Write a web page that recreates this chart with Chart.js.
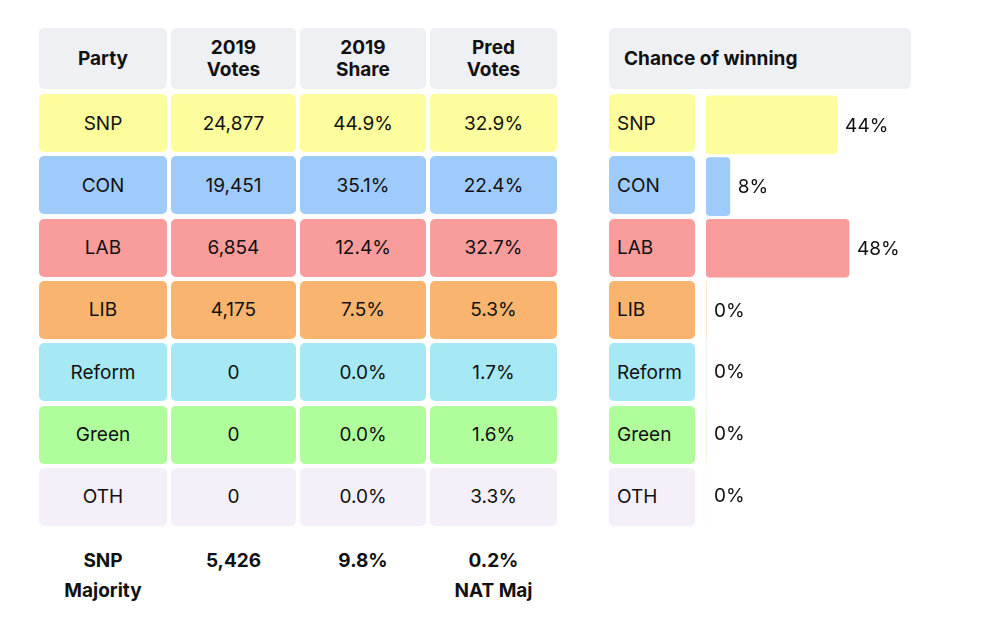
<!DOCTYPE html>
<html><head><meta charset="utf-8">
<script src="https://cdn.jsdelivr.net/npm/chart.js@4/dist/chart.umd.min.js"></script>
<style>
body{margin:0;background:#fff;font-family:Inter,"Noto Sans",sans-serif;color:#111;width:993px;height:619px;position:relative;overflow:hidden}
.c{position:absolute;display:flex;align-items:center;justify-content:center;text-align:center;font-size:19px;border-radius:5px;box-sizing:border-box}
.h{font-weight:700;background:#eff0f3;line-height:22px}
.f{font-weight:700;line-height:30px;align-items:flex-start}
#wrap{position:absolute;left:706px;top:94px;width:260px;height:432px}
</style></head><body>
<div id="wrap"><canvas id="myChart"></canvas></div>
<script>
var parties = ["SNP","CON","LAB","LIB","Reform","Green","OTH"];
var votes2019 = ["24,877","19,451","6,854","4,175","0","0","0"];
var share2019 = ["44.9%","35.1%","12.4%","7.5%","0.0%","0.0%","0.0%"];
var predVotes = ["32.9%","22.4%","32.7%","5.3%","1.7%","1.6%","3.3%"];
var chance = [44,8,48,0,0,0,0];
var colours = ["#fdfd9e","#9ecbfa","#f99c9c","#f9b46f","#a6e8f3","#b0fd9c","#f5effa"];
var footer = ["SNP<br>Majority","5,426","9.8%","0.2%<br>NAT Maj"];

var colX = [39,171,300,430], colW = [128,125,126,127];
function cell(x,y,w,h,html,cls,bg){
  var d=document.createElement('div');
  d.className='c '+(cls||'');
  d.style.left=x+'px';d.style.top=y+'px';d.style.width=w+'px';d.style.height=h+'px';
  if(bg) d.style.background=bg;
  d.innerHTML=html;document.body.appendChild(d);
}
var heads=["Party","2019<br>Votes","2019<br>Share","Pred<br>Votes"];
for(var j=0;j<4;j++) cell(colX[j],28,colW[j],61,heads[j],'h');
cell(609,28,302,61,'<span style="padding-left:15px;width:100%;text-align:left">Chance of winning</span>','h');
for(var i=0;i<parties.length;i++){
  var y=94+i*62.3;
  var vals=[parties[i],votes2019[i],share2019[i],predVotes[i]];
  for(var j=0;j<4;j++) cell(colX[j],y,colW[j],58,vals[j],'',colours[i]);
  cell(609,y,86,58,'<span style="padding-left:8px;width:100%;text-align:left">'+parties[i]+'</span>','',colours[i]);
}
for(var j=0;j<4;j++) cell(colX[j],546,colW[j],60,footer[j],'f');

// draw percentage labels next to the bars
var labelPlugin={id:'lbl',afterDatasetsDraw:function(chart){
  var ctx=chart.ctx,meta=chart.getDatasetMeta(0);
  ctx.save();ctx.font='19px Inter, sans-serif';ctx.fillStyle='#111';ctx.textBaseline='middle';
  meta.data.forEach(function(b,i){ctx.fillText(chance[i]+'%',b.x+(chance[i]>0?8:8),b.y+1);});
  ctx.restore();
}};
new Chart(document.getElementById('myChart'),{
  type:'bar',
  data:{labels:parties,datasets:[{data:chance,backgroundColor:colours,borderRadius:4,borderSkipped:false,barThickness:58}]},
  options:{indexAxis:'y',responsive:true,maintainAspectRatio:false,animation:false,
    layout:{padding:0},
    plugins:{legend:{display:false},tooltip:{enabled:false}},
    scales:{x:{display:false,min:0,max:260/2.98},y:{display:false}}},
  plugins:[labelPlugin]
});
</script>
</body></html>
